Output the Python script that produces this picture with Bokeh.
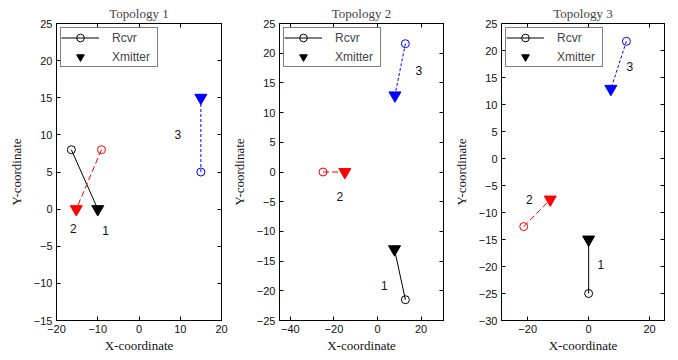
from bokeh.plotting import figure
from bokeh.models import Range1d, LinearAxis, FixedTicker, Legend, LegendItem, ColumnDataSource
from bokeh.layouts import row
from bokeh.embed import file_html
from bokeh.resources import INLINE
from bokeh.core.properties import value

titles = ["Topology 1", "Topology 2", "Topology 3"]

# pair order: 1 (black, solid), 2 (red, dashed), 3 (blue, dotted)
rcvr_x = [[-16.4, -9.1, 15.0], [12.8, -25.0, 12.8], [0.0, -21.3, 12.4]]
rcvr_y = [[8.0, 8.0, 5.0], [-21.5, 0.0, 21.6], [-25.0, -12.6, 21.7]]
xmit_x = [[-10.0, -15.2, 15.0], [7.8, -15.0, 8.0], [0.0, -12.6, 7.3]]
xmit_y = [[0.0, 0.0, 15.0], [-13.0, 0.0, 12.9], [-15.0, -7.6, 12.9]]

label_text = ["1", "2", "3"]
label_x = [[-8.1, -15.9, 9.4], [3.1, -17.3, 19.0], [4.0, -19.5, 13.5]]
label_y = [[-2.9, -2.6, 10.1], [-19.1, -4.1, 17.1], [-19.7, -7.6, 17.0]]

x_ranges = [(-20, 20), (-45, 30.3), (-28.6, 24.9)]
y_ranges = [(-15, 25), (-25, 25), (-30, 25)]
x_ticks = [[-20, -10, 0, 10, 20], [-40, -20, 0, 20], [-20, 0, 20]]
y_ticks = [list(range(-15, 26, 5)), list(range(-25, 26, 5)), list(range(-30, 26, 5))]

pair_colors = ["black", "red", "blue"]
pair_dash = ["solid", "6 3", "3 2"]

widths = [228, 222, 226]
borders_left = [56, 47, 48]
borders_right = [7, 7, 12]
HEIGHT = 358
TOP = 23
BOTTOM = HEIGHT - TOP - 297

SANS = "Liberation Sans"
SERIF = "Liberation Serif"


def style_axis(ax, ticks, label=None, label_standoff=6):
    ax.ticker = FixedTicker(ticks=ticks)
    ax.major_tick_in = 4
    ax.major_tick_out = 0
    ax.minor_tick_line_color = None
    ax.axis_line_color = "black"
    ax.major_tick_line_color = "black"
    ax.major_label_text_font = SANS
    ax.major_label_text_font_size = "11px"
    ax.major_label_text_color = "#111111"
    ax.major_label_standoff = 4
    if label is not None:
        ax.axis_label = label
        ax.axis_label_text_font = SERIF
        ax.axis_label_text_font_size = "13px"
        ax.axis_label_text_font_style = "normal"
        ax.axis_label_text_color = "#111111"
        ax.axis_label_standoff = label_standoff


def tick_only(ax):
    ax.major_label_text_font_size = "1px"
    ax.major_label_text_color = None
    ax.major_label_standoff = 0


def make_panel(i):
    p = figure(width=widths[i], height=HEIGHT,
               x_range=Range1d(*x_ranges[i]), y_range=Range1d(*y_ranges[i]),
               output_backend="svg", toolbar_location=None,
               min_border_left=borders_left[i], min_border_right=borders_right[i],
               min_border_top=TOP, min_border_bottom=BOTTOM)
    p.title.text = titles[i]
    p.title.text_font = SERIF
    p.title.text_font_size = "13px"
    p.title.text_font_style = "normal"
    p.title.align = "center"
    p.title.vertical_align = "top"
    p.title.standoff = 2
    p.grid.visible = False
    p.outline_line_color = "black"
    p.background_fill_color = "white"
    p.border_fill_color = "white"

    style_axis(p.xaxis[0], x_ticks[i], "X-coordinate", 2)
    style_axis(p.yaxis[0], y_ticks[i], "Y-coordinate", 7)

    top = LinearAxis()
    style_axis(top, x_ticks[i])
    tick_only(top)
    p.add_layout(top, "above")
    right = LinearAxis()
    style_axis(right, y_ticks[i])
    tick_only(right)
    p.add_layout(right, "right")

    seg_renderers = []
    for j in range(3):
        src = ColumnDataSource(dict(x0=[rcvr_x[i][j]], y0=[rcvr_y[i][j]],
                                    x1=[xmit_x[i][j]], y1=[xmit_y[i][j]]))
        seg_renderers.append(
            p.segment(x0="x0", y0="y0", x1="x1", y1="y1", source=src,
                      line_color=pair_colors[j], line_dash=pair_dash[j], line_width=1))

    cr = p.scatter(x=rcvr_x[i], y=rcvr_y[i], marker="circle", size=8,
                   fill_color=None, line_color=pair_colors, line_width=1)
    tr = p.scatter(x=xmit_x[i], y=xmit_y[i], marker="inverted_triangle", size=12,
                   fill_color=pair_colors, line_color=pair_colors)

    p.text(x=label_x[i], y=label_y[i], text=label_text,
           text_font=value(SANS), text_font_size="12px",
           text_align="center", text_baseline="middle", text_color="#111111")

    legend = Legend(items=[LegendItem(label="Rcvr", renderers=[seg_renderers[0], cr], index=0),
                           LegendItem(label="Xmitter", renderers=[tr], index=0)],
                    location="top_left", border_line_color="black", border_line_width=1,
                    background_fill_color="white", background_fill_alpha=1,
                    label_text_font=SANS, label_text_font_size="12px",
                    glyph_width=38, glyph_height=19, label_height=19, spacing=0,
                    padding=0, margin=4, label_standoff=13, label_width=45)
    p.add_layout(legend)
    return p


panels = [make_panel(i) for i in range(3)]
layout = row(*panels)
open("out.html", "w").write(file_html(layout, INLINE))
